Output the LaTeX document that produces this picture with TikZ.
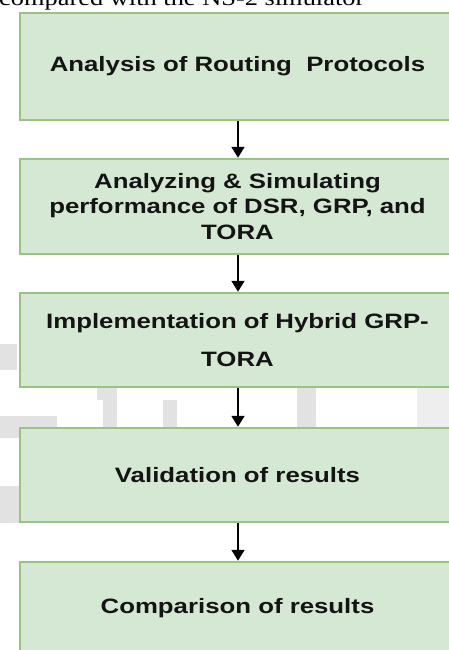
\documentclass[tikz,border=0pt]{standalone}
\usepackage{fontspec}
\setmainfont[FakeStretch=1.24]{Liberation Sans}
\newfontfamily\serifstretch[FakeStretch=1.2]{Liberation Serif}
\usetikzlibrary{arrows.meta}
\definecolor{boxfill}{HTML}{D5E8D4}
\definecolor{boxline}{HTML}{97C47F}
\definecolor{txt}{HTML}{141414}
\definecolor{wm}{HTML}{E2E2E2}
\tikzset{
  stepbox/.style={rectangle, draw=boxline, fill=boxfill, line width=2.5pt,
    minimum width=435pt, inner sep=0pt, align=center, text=txt,
    font=\fontsize{20.8}{25.5}\selectfont\bfseries},
  flowarrow/.style={line width=1.8pt, black, -{Triangle[width=13pt,length=11pt]}},
  wmark/.style={fill=wm, draw=none}
}
\begin{document}
\begin{tikzpicture}[x=1pt,y=-1pt]
\useasboundingbox (0,0) rectangle (449,650);
\clip (0,0) rectangle (449,650);
\fill[white] (0,0) rectangle (449,650);
% faint watermark remnants
\fill[wmark] (0,344) rectangle (17,370);
\fill[wmark] (0,416) rectangle (57,438);
\fill[wmark] (0,486) rectangle (19,523);
\fill[wmark] (97,388) rectangle (108,400);
\fill[wmark] (103,388) rectangle (117,428);
\fill[wmark] (163,400) rectangle (177,428);
\fill[wmark] (297,388) rectangle (316,428);
\fill[wm!60] (417,388) rectangle (449,428);
% top caption fragment
\node[anchor=base west, inner sep=0pt, font=\serifstretch\fontsize{22}{26}\selectfont] (cap) at (-1,6) {compared with the NS-2 simulator};
% boxes
\node[stepbox, minimum height=107pt] (b1) at (237.5,66.5) {Analysis of Routing\ \ Protocols};
\node[stepbox, minimum height=95pt] (b2) at (237.5,206.5) {Analyzing \& Simulating\\performance of DSR, GRP, and\\TORA};
\node[stepbox, minimum height=94pt] (b3) at (237.5,340) {Implementation of Hybrid GRP-\\[12pt]TORA};
\node[stepbox, minimum height=94pt] (b4) at (237.5,475) {Validation of results};
\node[stepbox, minimum height=93pt] (b5) at (237.5,608.5) {Comparison of results};
% arrows
\draw[flowarrow] ([xshift=0.5pt]b1.south) -- ([xshift=0.5pt]b2.north);
\draw[flowarrow] ([xshift=0.5pt]b2.south) -- ([xshift=0.5pt]b3.north);
\draw[flowarrow] ([xshift=0.5pt]b3.south) -- ([xshift=0.5pt]b4.north);
\draw[flowarrow] ([xshift=0.5pt]b4.south) -- ([xshift=0.5pt]b5.north);
\end{tikzpicture}
\end{document}
